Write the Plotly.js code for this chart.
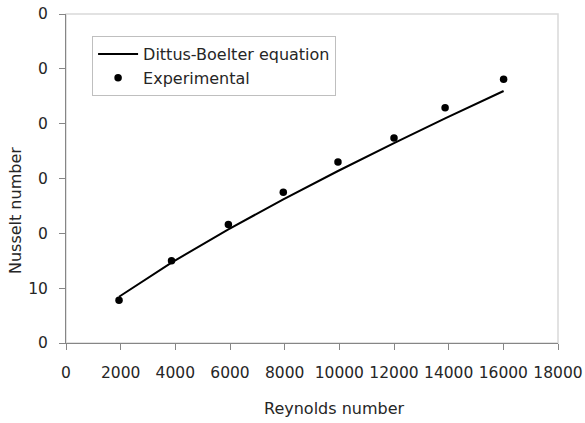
<!DOCTYPE html>
<html>
<head>
<meta charset="utf-8">
<script src="https://cdn.plot.ly/plotly-3.0.1.min.js"></script>
<style>
  html, body { margin: 0; padding: 0; background: #fff; }
  #chart { width: 585px; height: 423px; }
</style>
</head>
<body>
<div id="chart"></div>
<script>
// Reynolds number of each measured run
const reynoldsExp = [1940, 3860, 5940, 7950, 9950, 12000, 13870, 16010];
// Measured Nusselt numbers
const nusseltExp = [7.8, 15.0, 21.6, 27.5, 33.0, 37.4, 42.9, 48.1];

// Dittus-Boelter correlation evaluated at the same Reynolds numbers
const reynoldsDB = [1940, 3860, 5940, 7950, 9950, 12000, 13870, 16010];
const nusseltDB = [8.44, 14.67, 20.73, 26.20, 31.37, 36.46, 40.95, 45.96];

// Axis ticks
const xTickVals = [0, 2000, 4000, 6000, 8000, 10000, 12000, 14000, 16000, 18000];
const xTickText = ['0', '2000', '4000', '6000', '8000', '10000', '12000', '14000', '16000', '18000'];
const yTickVals = [0, 10, 20, 30, 40, 50, 60];
const yTickText = ['0', '10', '0', '0', '0', '0', '0'];

const FONT = 'DejaVu Sans, sans-serif';
const TEXT = '#262626';
const AXIS = '#868686';

const traces = [
  {
    x: reynoldsDB, y: nusseltDB,
    type: 'scatter', mode: 'lines',
    name: 'Dittus-Boelter equation',
    line: { color: '#000000', width: 2 },
    hoverinfo: 'skip'
  },
  {
    x: reynoldsExp, y: nusseltExp,
    type: 'scatter', mode: 'markers',
    name: 'Experimental',
    marker: { color: '#000000', size: 7.5, symbol: 'circle' },
    hoverinfo: 'skip'
  }
];

const layout = {
  width: 585, height: 423,
  margin: { l: 66, r: 27, t: 14, b: 80 },
  paper_bgcolor: '#ffffff',
  plot_bgcolor: '#ffffff',
  font: { family: FONT, size: 15, color: TEXT },
  showlegend: true,
  legend: {
    x: 0.053, y: 0.933, xanchor: 'left', yanchor: 'top',
    bordercolor: '#bfbfbf', borderwidth: 1,
    bgcolor: '#ffffff',
    font: { family: FONT, size: 16, color: TEXT },
    itemwidth: 40,
    tracegroupgap: 0
  },
  xaxis: {
    range: [0, 18000],
    tickvals: xTickVals, ticktext: xTickText,
    showgrid: false, zeroline: false,
    showline: true, linecolor: AXIS, linewidth: 1,
    ticks: 'outside', ticklen: 6, tickcolor: AXIS,
    tickfont: { family: FONT, size: 15.5, color: TEXT },
    ticklabelstandoff: 9,
    fixedrange: true
  },
  yaxis: {
    range: [0, 60],
    tickvals: yTickVals, ticktext: yTickText,
    showgrid: false, zeroline: false,
    showline: true, linecolor: AXIS, linewidth: 1,
    ticks: 'outside', ticklen: 6, tickcolor: AXIS,
    tickfont: { family: FONT, size: 15.5, color: TEXT },
    ticklabelstandoff: 8,
    fixedrange: true
  },
  shapes: [
    {
      type: 'rect', xref: 'paper', yref: 'paper',
      x0: 0, x1: 1, y0: 0, y1: 1,
      line: { color: '#d9d9d9', width: 1.5 },
      layer: 'below'
    }
  ],
  annotations: [
    {
      text: 'Reynolds number', xref: 'paper', yref: 'paper',
      x: 0.5457, y: -0.1976, xanchor: 'center', yanchor: 'middle',
      showarrow: false, font: { family: FONT, size: 16, color: TEXT }
    },
    {
      text: 'Nusselt number', xref: 'paper', yref: 'paper',
      x: -0.1037, y: 0.404, xanchor: 'center', yanchor: 'middle',
      textangle: -90,
      showarrow: false, font: { family: FONT, size: 16, color: TEXT }
    }
  ]
};

Plotly.newPlot('chart', traces, layout, { staticPlot: true, displayModeBar: false });
</script>
</body>
</html>
